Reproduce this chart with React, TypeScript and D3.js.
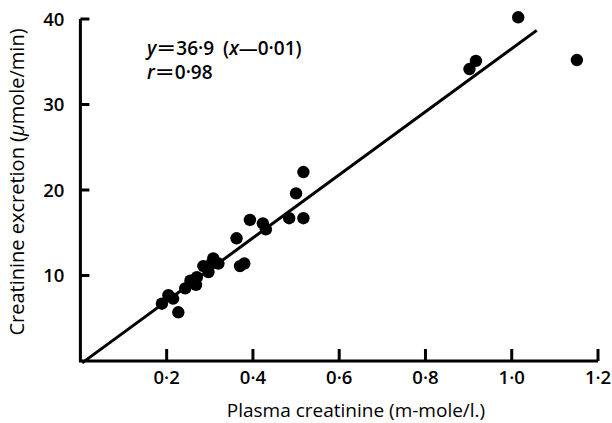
import React from 'react';
import * as d3 from 'd3';

// plasma creatinine (m-mole/l.) vs creatinine excretion (umole/min)
const plasma = [
  0.189, 0.204, 0.215, 0.227, 0.243, 0.255, 0.268, 0.27, 0.285, 0.297, 0.304, 0.308, 0.32,
  0.362, 0.37, 0.38, 0.393, 0.423, 0.43, 0.484, 0.5, 0.517, 0.517, 0.902, 0.917, 1.015, 1.151,
];
const excretion = [
  6.7, 7.7, 7.3, 5.7, 8.5, 9.4, 8.9, 9.8, 11.1, 10.4, 11.4, 12.0, 11.4,
  14.35, 11.1, 11.4, 16.5, 16.1, 15.4, 16.7, 19.6, 22.1, 16.7, 34.15, 35.1, 40.2, 35.2,
];

const xTicks = [0.2, 0.4, 0.6, 0.8, 1.0, 1.2];
const xTickLabels = ['0·2', '0·4', '0·6', '0·8', '1·0', '1·2'];
const yTicks = [10, 20, 30, 40];

// regression line y = 36.9 (x - 0.01), drawn over this x range
const fitSlope = 36.9;
const fitOffset = 0.01;
const fitRange = [0.004, 1.058];

const font = '"Open Sans", Lato, sans-serif';

export default function App() {
  const width = 612;
  const height = 423;

  const x = d3.scaleLinear().domain([0, 1.2]).range([80.4, 598]);
  const y = d3.scaleLinear().domain([0, 40]).range([361, 19]);

  const points = plasma.map((p, i) => ({ p, e: excretion[i] }));

  const fitLine = d3.line<number>()
    .x(d => x(d))
    .y(d => y(fitSlope * (d - fitOffset)))(fitRange);

  const x0 = x(0);
  const y0 = y(0);

  return (
    <svg
      width={width}
      height={height}
      style={{ position: 'absolute', left: 0, top: 0, background: '#fff' }}
      fontFamily={font}
    >
      {/* fitted line */}
      <path d={fitLine || ''} stroke="#000" strokeWidth={3} fill="none" />

      {/* axes */}
      <path
        d={`M${x0},${y(40)}V${y0}H${x(1.2)}`}
        stroke="#000"
        strokeWidth={3}
        fill="none"
        strokeLinejoin="miter"
      />
      {yTicks.map(t => (
        <g key={t}>
          <line x1={x0} x2={x0 + 9} y1={y(t)} y2={y(t)} stroke="#000" strokeWidth={3} />
          <text
            x={x0 - 16}
            y={y(t)}
            dy="0.36em"
            textAnchor="end"
            fontSize={18.5}
            fontWeight={600}
          >
            {t}
          </text>
        </g>
      ))}
      {xTicks.map((t, i) => (
        <g key={t}>
          <line x1={x(t)} x2={x(t)} y1={y0} y2={y0 - 12} stroke="#000" strokeWidth={3} />
          <text x={x(t)} y={384} textAnchor="middle" fontSize={18.5} fontWeight={600}>
            {xTickLabels[i]}
          </text>
        </g>
      ))}

      {/* points */}
      {points.map((d, i) => (
        <circle key={i} cx={x(d.p)} cy={y(d.e)} r={6.2} fill="#000" />
      ))}

      {/* equation */}
      <text x={147} y={55} fontSize={19} fontWeight={600}>
        <tspan fontStyle="italic">y</tspan>
        <tspan dx={1} textLength={18} lengthAdjust="spacingAndGlyphs">=</tspan>
        <tspan dx={1}>36·9</tspan>
        <tspan dx={9}>(</tspan>
        <tspan fontStyle="italic">x</tspan>
        <tspan>—0·01)</tspan>
      </text>
      <text x={147} y={79} fontSize={19} fontWeight={600}>
        <tspan fontStyle="italic">r</tspan>
        <tspan dx={1} textLength={18} lengthAdjust="spacingAndGlyphs">=</tspan>
        <tspan dx={1}>0·98</tspan>
      </text>

      {/* axis titles */}
      <text x={356} y={417} textAnchor="middle" fontSize={19} fontWeight={500}>
        Plasma creatinine (m-mole/l.)
      </text>
      <text
        transform={`translate(24,182) rotate(-90)`}
        textAnchor="middle"
        fontSize={20}
        fontWeight={500}
      >
        {'Creatinine excretion ('}
        <tspan fontStyle="italic">μ</tspan>
        {'mole/min)'}
      </text>
    </svg>
  );
}
